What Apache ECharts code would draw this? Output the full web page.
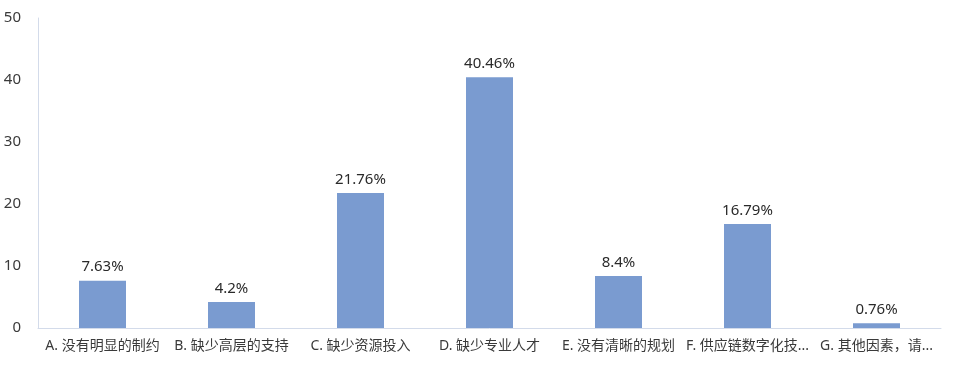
<!DOCTYPE html>
<html>
<head>
<meta charset="utf-8">
<script src="https://cdn.jsdelivr.net/npm/echarts@6/dist/echarts.min.js"></script>
<style>html,body{margin:0;padding:0;background:#fff;}#c{width:970px;height:376px;}</style>
</head>
<body>
<div id="c"></div>
<script>
const categories = ['A. 没有明显的制约', 'B. 缺少高层的支持', 'C. 缺少资源投入', 'D. 缺少专业人才', 'E. 没有清晰的规划', 'F. 供应链数字化技...', 'G. 其他因素，请...'];
const values = [7.63, 4.2, 21.76, 40.46, 8.4, 16.79, 0.76];
const yTicks = [0, 10, 20, 30, 40, 50];

const font = "'Noto Sans', 'Noto Sans CJK SC', sans-serif";
const chart = echarts.init(document.getElementById('c'));
chart.setOption({
  animation: false,
  grid: { left: 38, right: 29, top: 18, bottom: 48 },
  xAxis: {
    type: 'category',
    data: categories,
    axisLine: { lineStyle: { color: '#D3DBEA', width: 1 } },
    axisTick: { show: false },
    axisLabel: { color: '#3a3a3a', fontSize: 14, fontFamily: font, margin: 11, interval: 0 }
  },
  yAxis: {
    type: 'value',
    min: yTicks[0],
    max: yTicks[yTicks.length - 1],
    interval: 10,
    axisLine: { show: true, lineStyle: { color: '#D3DBEA', width: 1 } },
    axisTick: { show: false },
    splitLine: { show: false },
    axisLabel: { color: '#3a3a3a', fontSize: 15, fontFamily: font, margin: 17 }
  },
  series: [{
    type: 'bar',
    data: values,
    barWidth: 47,
    itemStyle: { color: '#7A9BD0' },
    label: {
      show: true,
      position: 'top',
      distance: 6,
      formatter: p => p.value + '%',
      color: '#2a2a2a',
      fontSize: 15,
      fontFamily: font
    }
  }]
});
</script>
</body>
</html>
